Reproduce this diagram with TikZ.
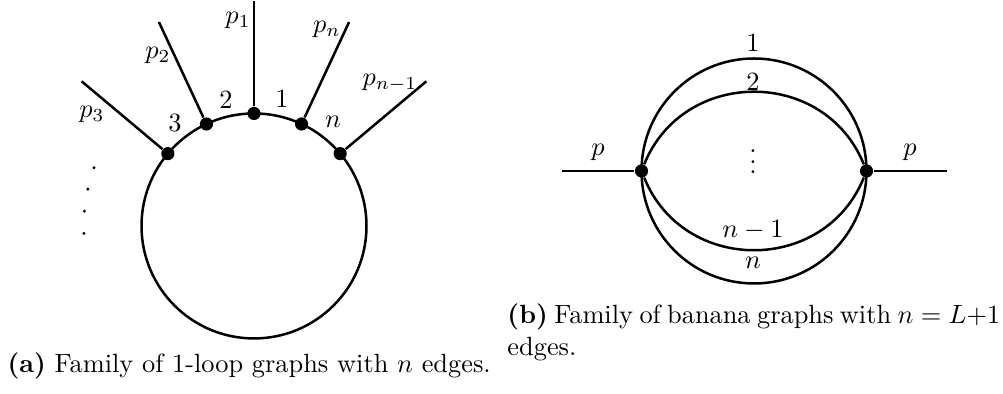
\documentclass[tikz,border=0pt]{standalone}
\usepackage{amsmath}
\usepackage{amssymb}
\usetikzlibrary{positioning,calc}

\begin{document}
\begin{tikzpicture}[
    line/.style={line width=0.95pt},
    vertex/.style={circle, fill, inner sep=0pt, minimum size=5pt},
    caption/.style={anchor=base west, inner sep=0pt}
]
    \useasboundingbox (-3.387,-2.24) rectangle (9.987,3.013);

    % 1-loop graph (left)
    \coordinate (c) at (0,0);
    \draw[line] (c) circle (1.5);
    \node[vertex] (v1) at (90:1.5) {};
    \node[vertex] (v2) at (115:1.5) {};
    \node[vertex] (v3) at (140:1.5) {};
    \node[vertex] (vn) at (65:1.5) {};
    \node[vertex] (vm) at (40:1.5) {};
    \coordinate (e1) at (90:3);
    \coordinate (e2) at (115:3);
    \coordinate (e3) at (140:3);
    \coordinate (en) at (65:3);
    \coordinate (em) at (40:3);
    \draw[line] (v1) -- (e1);
    \draw[line] (v2) -- (e2);
    \draw[line] (v3) -- (e3);
    \draw[line] (vn) -- (en);
    \draw[line] (vm) -- (em);

    % momenta and edge labels
    \node (p1) at (-0.213,2.747) {$p_1$};
    \node (p2) at (-1.28,2.28) {$p_2$};
    \node (p3) at (-2.16,1.49) {$p_3$};
    \node (pn) at (0.973,2.62) {$p_n$};
    \node (pm) at (1.813,1.907) {$p_{n-1}$};
    \node (l3) at (-1.053,1.373) {3};
    \node (l2) at (-0.373,1.68) {2};
    \node (l1) at (0.373,1.693) {1};
    \node (ln) at (1.053,1.387) {$n$};

    % dots
    \foreach \a in {160,167.5,175,182.5}
        \fill (\a:2.27) circle (0.022);

    % banana graph (right)
    \coordinate (b) at (6.667,0.733);
    \draw[line] (b) circle (1.5);
    \node[vertex] (u1) at (5.167,0.733) {};
    \node[vertex] (u2) at (8.167,0.733) {};
    \coordinate (w1) at (4.107,0.733);
    \coordinate (w2) at (9.24,0.733);
    \draw[line] (w1) -- (u1);
    \draw[line] (u2) -- (w2);
    \draw[line] (u1) to[bend left=68, looseness=1.22] (u2);
    \draw[line] (u1) to[bend right=68, looseness=1.22] (u2);

    \node (q1) at (4.587,0.987) {$p$};
    \node (q2) at (8.747,0.987) {$p$};
    \node (k1) at (6.653,2.44) {1};
    \node (k2) at (6.653,1.92) {2};
    \node (kd) at (6.653,0.96) {$\vdots$};
    \node (km) at (6.653,-0.053) {$n-1$};
    \node (kn) at (6.653,-0.493) {$n$};

    % captions
    \node[caption] (capa) at (-3.293,-1.96) {\textbf{(a)} Family of 1-loop graphs with $n$ edges.};
    \node[caption, text width=6.57cm, align=justify] (capb) at (3.373,-1.307)
        {\textbf{(b)} Family of banana graphs with $n=L{+}1$ edges.};
\end{tikzpicture}
\end{document}
